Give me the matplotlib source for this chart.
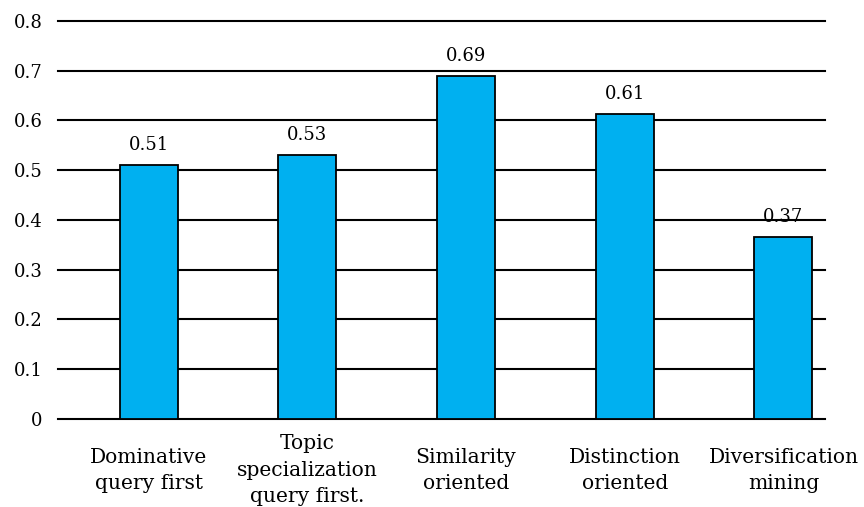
import matplotlib
matplotlib.use("Agg")
import matplotlib.pyplot as plt
import numpy as np

categories = ["Dominative\nquery first", "Topic\nspecialization\nquery first.",
              "Similarity\noriented", "Distinction\noriented", "Diversification\nmining"]
values = [0.511, 0.531, 0.689, 0.613, 0.365]
value_labels = ["0.51", "0.53", "0.69", "0.61", "0.37"]
yticks = [0, 0.1, 0.2, 0.3, 0.4, 0.5, 0.6, 0.7, 0.8]
ytick_labels = ["0", "0.1", "0.2", "0.3", "0.4", "0.5", "0.6", "0.7", "0.8"]

plt.rcParams['font.family'] = ['DejaVu Serif']

fig = plt.figure(figsize=(8.64, 5.07), dpi=100)
ax = fig.add_axes([0.0671, 0.1736, 0.8878, 0.785])

x = np.arange(len(categories))
bars = ax.bar(x, values, width=0.365, color="#00B0F0", edgecolor="black",
              linewidth=1.3, zorder=3)
for b, lab in zip(bars, value_labels):
    ax.annotate(lab, (b.get_x() + b.get_width() / 2, b.get_height()),
                xytext=(0, 8), textcoords="offset points",
                ha="center", va="bottom", fontsize=13)

ax.set_ylim(0, 0.8)
ax.set_xlim(-0.571, 4.262)
ax.set_yticks(yticks)
ax.set_yticklabels(ytick_labels, fontsize=13)
ax.set_xticks(x)
ax.set_xticklabels(categories, fontsize=14.6, linespacing=1.5, va="center")
ax.tick_params(axis="both", length=0)
ax.tick_params(axis="x", pad=37)
ax.tick_params(axis="y", pad=11)
ax.yaxis.grid(True, color="black", linewidth=1.5, zorder=0)
for gl in ax.yaxis.get_gridlines():
    gl.set_clip_on(False)
ax.set_axisbelow(True)
for s in ["top", "right", "left", "bottom"]:
    ax.spines[s].set_visible(False)

fig.savefig("out.png", dpi=100)
